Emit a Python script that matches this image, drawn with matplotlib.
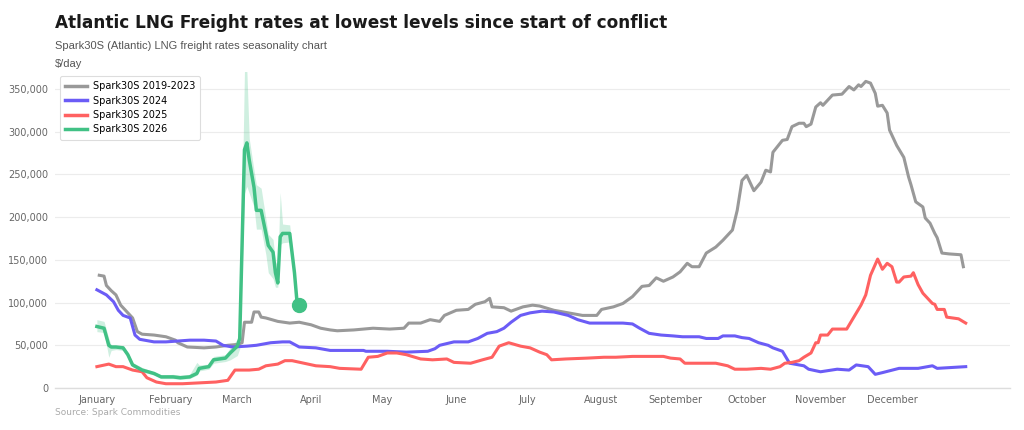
import matplotlib
matplotlib.use("Agg")
import matplotlib.pyplot as plt
from matplotlib.ticker import FuncFormatter, FixedLocator
from matplotlib import font_manager

# ---------------- data (day of year, value in $/day thousands) ----------------
months = ["January", "February", "March", "April", "May", "June", "July",
          "August", "September", "October", "November", "December"]
month_start_days = [0, 31, 59, 90, 120, 151, 181, 212, 243, 273, 304, 334]

grey_days = [1, 3, 4, 6, 8, 10, 13, 15, 17, 19, 24, 29, 33, 34, 38, 45, 50, 55, 59, 61,
             62, 65, 66, 68, 69, 71, 76, 81, 85, 90, 94, 98, 101, 108, 116, 123, 129, 131,
             136, 140, 144, 146, 151, 156, 159, 163, 165, 166, 171, 174, 179, 183, 186,
             192, 198, 204, 210, 212, 217, 221, 225, 227, 229, 232, 235, 238, 242, 245,
             248, 250, 253, 256, 260, 263, 267, 269, 271, 273, 276, 279, 281, 283, 284,
             288, 290, 292, 295, 297, 298, 300, 302, 304, 305, 307, 309, 313, 316, 318,
             320, 321, 323, 325, 327, 328, 330, 332, 333, 336, 339, 341, 342, 344, 347,
             348, 350, 352, 353, 355, 358, 363, 364]
grey_vals = [132, 131, 120, 114, 109, 97, 88, 82, 66, 63, 62, 60, 56, 53, 48, 47, 48, 50, 51, 53,
             77, 77, 89, 89, 83, 82, 78, 76, 77, 74, 70, 68, 67, 68, 70, 69, 70, 76,
             76, 80, 78, 85, 91, 92, 98, 101, 105, 95, 94, 90, 95, 97, 96,
             91, 88, 85, 85, 92, 95, 99, 107, 113, 119, 120, 129, 125, 130, 136,
             146, 142, 142, 158, 165, 173, 185, 208, 243, 249, 231, 241, 255, 253, 276,
             290, 291, 306, 310, 310, 306, 309, 329, 334, 331, 337, 343, 344, 353, 349,
             355, 353, 359, 357, 345, 330, 331, 322, 302, 284, 270, 247, 238, 218, 212,
             199, 193, 181, 176, 158, 157, 156, 142]

blue_days = [0, 4, 7, 9, 11, 14, 16, 18, 24, 29, 34, 39, 45, 50, 53, 57, 63, 67, 73, 78,
             81, 85, 92, 98, 101, 112, 113, 122, 130, 139, 142, 144, 150, 156, 160, 164,
             168, 171, 174, 178, 182, 187, 192, 198, 202, 207, 213, 220, 221, 225, 228,
             232, 237, 242, 246, 253, 256, 261, 263, 268, 271, 274, 278, 282, 284, 288,
             291, 295, 297, 299, 304, 311, 316, 319, 324, 327, 330, 337, 345, 351, 353, 365]
blue_vals = [115, 109, 101, 91, 85, 82, 62, 57, 54, 54, 55, 56, 56, 55, 50, 48, 49, 50, 53, 54,
             54, 48, 47, 44, 44, 44, 43, 43, 42, 43, 46, 50, 54, 54, 58, 64,
             66, 70, 77, 85, 88, 90, 89, 85, 80, 76, 76, 76, 76, 75, 70,
             64, 62, 61, 60, 60, 58, 58, 61, 61, 59, 58, 53, 50, 47, 43,
             29, 27, 26, 22, 19, 22, 21, 27, 25, 16, 18, 23, 23, 26, 23, 25]

red_days = [0, 5, 8, 11, 15, 19, 21, 25, 29, 36, 43, 50, 55, 58, 64, 68, 71, 76, 79, 82,
            87, 92, 98, 102, 111, 114, 118, 122, 126, 130, 136, 141, 147, 150, 157, 162,
            166, 169, 173, 178, 182, 186, 189, 191, 197, 206, 213, 218, 225, 238, 241,
            245, 247, 256, 260, 265, 268, 273, 279, 283, 287, 289, 292, 295, 297, 300,
            302, 303, 304, 307, 309, 315, 318, 321, 323, 325, 328, 330, 332, 334, 336,
            337, 339, 342, 343, 345, 347, 351, 352, 353, 356, 357, 362, 365]
red_vals = [25, 28, 25, 25, 21, 19, 12, 7, 5, 5, 6, 7, 9, 21, 21, 22, 26, 28, 32, 32,
            29, 26, 25, 23, 22, 36, 37, 41, 41, 39, 34, 33, 34, 30, 29, 33,
            36, 49, 53, 49, 47, 42, 39, 33, 34, 35, 36, 36, 37, 37, 35,
            34, 29, 29, 29, 26, 22, 22, 23, 22, 25, 29, 30, 32, 36, 41,
            53, 53, 62, 62, 69, 69, 83, 97, 109, 132, 151, 139, 146, 142, 124,
            124, 130, 131, 135, 121, 111, 99, 98, 92, 92, 83, 81, 76]

green_days = [0, 3, 5, 6, 8, 11, 13, 15, 19, 24, 27, 32, 35, 39, 42, 43, 47, 49, 54, 56,
              59, 60, 62, 63, 64, 66, 67, 69, 71, 72, 74, 75, 76, 77, 78, 81, 83, 84, 85]
green_vals = [72, 70, 50, 48, 48, 47, 39, 27, 21, 17, 13, 13, 12, 13, 17, 23, 25, 33, 35, 41,
              49, 58, 279, 287, 267, 235, 208, 208, 181, 167, 159, 135, 123, 177, 181, 181,
              135, 103, 97]
green_low = [66, 65, 36, 44, 45, 44, 36, 25, 19, 15, 11, 11, 10, 11, 15, 20, 22, 29, 31, 33,
             38, 46, 228, 236, 228, 212, 186, 186, 156, 135, 128, 118, 118, 168, 170, 171,
             130, 100, 95]
green_high = [80, 78, 58, 50, 50, 50, 42, 30, 24, 19, 15, 16, 15, 16, 30, 27, 28, 37, 39, 47,
              57, 64, 372, 372, 292, 255, 238, 234, 198, 180, 174, 148, 143, 229, 192, 191,
              141, 107, 99]

series_names = ["Spark30S 2019-2023", "Spark30S 2024", "Spark30S 2025", "Spark30S 2026"]
colors = ["#999999", "#6b5cf6", "#ff6161", "#41c185"]

# ---------------- figure ----------------
W, H = 1024, 430
fig = plt.figure(figsize=(W / 100, H / 100), dpi=100)
plt.rcParams['font.family'] = ['DejaVu Sans']

installed = {f.name for f in font_manager.fontManager.ttflist}
narrow = 'Liberation Sans Narrow' if 'Liberation Sans Narrow' in installed else 'Liberation Sans'

ax = fig.add_axes([55 / W, 1 - 388 / H, (1010 - 55) / W, (388 - 72) / H])

k = 1000
lw = 2.2
ax.plot(grey_days, [v * k for v in grey_vals], color=colors[0], lw=lw, label=series_names[0], zorder=3)
ax.plot(blue_days, [v * k for v in blue_vals], color=colors[1], lw=lw, label=series_names[1], zorder=3)
ax.plot(red_days, [v * k for v in red_vals], color=colors[2], lw=lw, label=series_names[2], zorder=3)
ax.fill_between(green_days, [v * k for v in green_low], [v * k for v in green_high],
                color=colors[3], alpha=0.25, lw=0, zorder=2)
ax.plot(green_days, [v * k for v in green_vals], color=colors[3], lw=lw + 0.3, label=series_names[3], zorder=4)
ax.plot([green_days[-1]], [green_vals[-1] * k], 'o', color=colors[3], ms=10, zorder=5)

ax.set_xlim(-17.6, 383.6)
ax.set_ylim(0, 370000)

ax.yaxis.set_major_locator(FixedLocator([0, 50000, 100000, 150000, 200000, 250000, 300000, 350000]))
ax.yaxis.set_major_formatter(FuncFormatter(lambda v, p: f"{int(v):,}"))
ax.xaxis.set_major_locator(FixedLocator(month_start_days))
ax.set_xticklabels(months)

ax.tick_params(axis='both', length=0, labelsize=7, labelcolor='#666666')
ax.tick_params(axis='y', pad=5)
ax.tick_params(axis='x', pad=5)
ax.grid(axis='y', color='#ececec', lw=0.8)
ax.set_axisbelow(True)
for s in ['top', 'right', 'left']:
    ax.spines[s].set_visible(False)
ax.spines['bottom'].set_color('#dddddd')
ax.spines['bottom'].set_linewidth(1.0)

leg = ax.legend(loc='upper left', bbox_to_anchor=(60 / W, 1 - 76 / H), bbox_transform=fig.transFigure,
                borderaxespad=0, fontsize=7, frameon=True, handlelength=2.2, labelspacing=0.45,
                borderpad=0.55, handletextpad=0.6)
leg.get_frame().set_edgecolor('#dddddd')
leg.get_frame().set_linewidth(0.8)
leg.get_frame().set_alpha(1)
for line in leg.get_lines():
    line.set_linewidth(2.5)

fig.text(55 / W, 1 - 28 / H, "Atlantic LNG Freight rates at lowest levels since start of conflict",
         fontsize=12.15, fontweight='bold', color='#1a1a1a', va='baseline')
fig.text(55 / W, 1 - 49 / H, "Spark30S (Atlantic) LNG freight rates seasonality chart",
         fontsize=8.0, color='#555555', va='baseline', family=narrow)
fig.text(55 / W, 1 - 67 / H, "$/day", fontsize=8.0, color='#555555', va='baseline', family=narrow)
fig.text(55 / W, 1 - 415 / H, "Source: Spark Commodities", fontsize=6.5, color='#aaaaaa', va='baseline')

fig.savefig("out.png", dpi=100)
